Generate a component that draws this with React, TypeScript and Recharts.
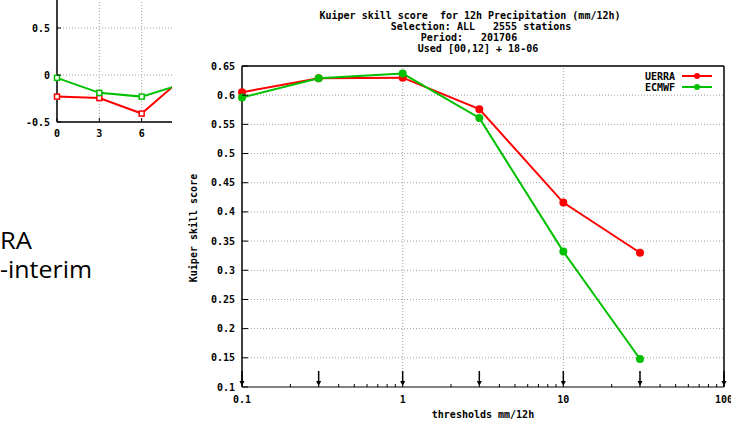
import React from "react";
import {
  ComposedChart, LineChart, Line, Scatter, XAxis, YAxis,
  CartesianGrid, ReferenceLine, Legend,
} from "recharts";

// ── main panel: Kuiper skill score vs threshold ────────────────
const thresholds = [0.1, 0.3, 1, 3, 10, 30];
const uerraScores = [0.605, 0.629, 0.63, 0.576, 0.416, 0.33];
const ecmwfScores = [0.596, 0.629, 0.637, 0.561, 0.332, 0.148];
const arrowThresholds = [0.1, 0.3, 1, 3, 10, 30, 100];
const seriesNames = ["UERRA", "ECMWF"];

const xTicks = [
  0.1, 0.2, 0.3, 0.4, 0.5, 0.6, 0.7, 0.8, 0.9,
  1, 2, 3, 4, 5, 6, 7, 8, 9,
  10, 20, 30, 40, 50, 60, 70, 80, 90, 100,
];
const xDecades = [0.1, 1, 10, 100];
const xGridLines = [1, 10];
const yTicks = [0.1, 0.15, 0.2, 0.25, 0.3, 0.35, 0.4, 0.45, 0.5, 0.55, 0.6, 0.65];

const titleLines = [
  "Kuiper skill score  for 12h Precipitation (mm/12h)",
  "Selection: ALL   2555 stations",
  "Period:   201706",
  "Used [00,12] + 18-06",
];

// ── left panel (cropped in the slide) ──────────────────────────
const leadHours = [0, 3, 6, 9];
const leadTicks = [0, 3, 6];
const leftUerra = [-0.23, -0.245, -0.41, -0.02];
const leftEcmwf = [-0.03, -0.19, -0.23, -0.09];
const leftYTicks = [-0.5, 0, 0.5];

const RED = "#ff0000";
const GREEN = "#00c000";

const mono = {
  fontFamily: "'DejaVu Sans Mono', monospace",
  fontWeight: "bold" as const,
  fontSize: 10,
  fill: "#000",
};

const uerraData = thresholds.map((t, i) => ({ t, v: uerraScores[i] }));
const ecmwfData = thresholds.map((t, i) => ({ t, v: ecmwfScores[i] }));
const arrowData = arrowThresholds.map((t) => ({ t, v: 0.1 }));
const leftData = leadHours.map((h, i) => ({ h, u: leftUerra[i], e: leftEcmwf[i] }));

// ticks drawn inward like gnuplot
function BottomTick({ x, y, payload }: any) {
  const major = xDecades.includes(payload.value);
  return (
    <g>
      <line x1={x} x2={x} y1={y} y2={y - (major ? 6 : 3)} stroke="#000" />
      {major && (
        <text x={x} y={y + 16} textAnchor="middle" style={mono}>{payload.value}</text>
      )}
    </g>
  );
}

function TopTick({ x, y, payload }: any) {
  const major = xDecades.includes(payload.value);
  return <line x1={x} x2={x} y1={y} y2={y + (major ? 6 : 3)} stroke="#000" />;
}

function LeftTick({ x, y, payload }: any) {
  return (
    <g>
      <line x1={x} x2={x + 6} y1={y} y2={y} stroke="#000" />
      <text x={x - 7} y={y + 3.5} textAnchor="end" style={mono}>{String(payload.value)}</text>
    </g>
  );
}

function RightTick({ x, y }: any) {
  return <line x1={x - 6} x2={x} y1={y} y2={y} stroke="#000" />;
}

function Arrow({ cx, cy }: any) {
  return (
    <g>
      <line x1={cx} x2={cx} y1={cy - 16} y2={cy - 5} stroke="#000" strokeWidth={1.5} />
      <path d={`M${cx - 2.5},${cy - 6} L${cx + 2.5},${cy - 6} L${cx},${cy - 1} Z`} fill="#000" />
    </g>
  );
}

function LegendBox({ payload }: any) {
  const items = seriesNames
    .map((n) => (payload || []).find((p: any) => p.value === n))
    .filter(Boolean);
  return (
    <svg width={92} height={26}>
      {items.map((p: any, i: number) => (
        <g key={p.value}>
          <text x={45} y={10.5 + i * 11} textAnchor="end" style={mono}>{p.value}</text>
          <line x1={52} x2={82} y1={7 + i * 11} y2={7 + i * 11} stroke={p.color} strokeWidth={2} />
          <circle cx={67} cy={7 + i * 11} r={3} fill={p.color} />
        </g>
      ))}
    </svg>
  );
}

// ── small panel helpers ────────────────────────────────────────
function MiniXTick({ x, y, payload }: any) {
  return (
    <g>
      <line x1={x} x2={x} y1={y} y2={y - 4} stroke="#000" />
      <text x={x} y={y + 15} textAnchor="middle" style={mono}>{payload.value}</text>
    </g>
  );
}

function MiniYTick({ x, y, payload }: any) {
  return (
    <g>
      <line x1={x} x2={x + 4} y1={y} y2={y} stroke="#000" />
      <text x={x - 7} y={y + 3.5} textAnchor="end" style={mono}>{String(payload.value)}</text>
    </g>
  );
}

function OpenSquare(color: string) {
  return ({ cx, cy, index }: any) => (
    <rect key={index} x={cx - 2.5} y={cy - 2.5} width={5} height={5} fill="#fff" stroke={color} strokeWidth={1.5} />
  );
}

function LeftPanel() {
  return (
    <div style={{ position: "absolute", left: 0, top: 0, width: 172, height: 150, overflow: "hidden" }}>
      <div style={{ position: "absolute", left: 0, top: -40 }}>
        <LineChart width={189} height={192} data={leftData} margin={{ top: 21, right: 5, left: 7, bottom: 5 }}>
          <CartesianGrid stroke="#a0a0a0" strokeDasharray="1 2" />
          <XAxis
            dataKey="h" type="number" domain={[0, 9]} ticks={leadTicks} interval={0}
            height={25} tickSize={0} tickMargin={0} tickLine={false}
            axisLine={{ stroke: "#000", strokeWidth: 1.5 }} tick={MiniXTick}
          />
          <YAxis
            type="number" domain={[-0.5, 1]} ticks={leftYTicks} interval={0}
            width={50} tickSize={0} tickMargin={0} tickLine={false}
            axisLine={{ stroke: "#000", strokeWidth: 1.5 }} tick={MiniYTick}
          />
          <Line dataKey="u" stroke={RED} strokeWidth={2} dot={OpenSquare(RED)} isAnimationActive={false} />
          <Line dataKey="e" stroke={GREEN} strokeWidth={2} dot={OpenSquare(GREEN)} isAnimationActive={false} />
        </LineChart>
      </div>
    </div>
  );
}

export default function App() {
  return (
    <div style={{ position: "absolute", left: 0, top: 0, width: 731, height: 423, overflow: "hidden", background: "#fff" }}>
      <LeftPanel />

      <svg width={731} height={423} style={{ position: "absolute", left: 0, top: 0 }}>
        <text x={0} y={249} style={{ fontFamily: "'Open Sans', sans-serif", fontSize: 23 }}
          textLength={32} lengthAdjust="spacingAndGlyphs">RA</text>
        <text x={0} y={278} style={{ fontFamily: "'Open Sans', sans-serif", fontSize: 23 }}
          textLength={92} lengthAdjust="spacingAndGlyphs">-interim</text>
      </svg>

      <div style={{ position: "absolute", left: 0, top: 0 }}>
        <ComposedChart width={731} height={423} margin={{ top: 65, right: 6, bottom: 35, left: 241 }}>
          <CartesianGrid vertical={false} stroke="#a0a0a0" strokeDasharray="1 2" />
          <XAxis
            dataKey="t" type="number" scale="log" domain={[0.1, 100]}
            ticks={xTicks} interval={0} height={1} tickSize={0} tickMargin={0} tickLine={false}
            axisLine={{ stroke: "#808080", strokeWidth: 2 }} tick={BottomTick}
          />
          <XAxis
            xAxisId="top" orientation="top" dataKey="t" type="number" scale="log" domain={[0.1, 100]}
            ticks={xTicks} interval={0} height={1} tickSize={0} tickMargin={0}
            tickLine={false} axisLine={{ stroke: "#000", strokeWidth: 1.5 }} tick={TopTick}
          />
          <YAxis
            type="number" domain={[0.1, 0.65]} ticks={yTicks} interval={0}
            width={1} tickSize={0} tickMargin={0} tickLine={false}
            axisLine={{ stroke: "#000", strokeWidth: 1.5 }} tick={LeftTick}
          />
          <YAxis
            yAxisId="right" orientation="right" type="number" domain={[0.1, 0.65]}
            ticks={yTicks} interval={0} width={1} tickSize={0} tickMargin={0} tickLine={false}
            axisLine={{ stroke: "#000", strokeWidth: 1.5 }} tick={RightTick}
          />
          {xGridLines.map((g) => (
            <ReferenceLine key={g} x={g} stroke="#a0a0a0" strokeDasharray="1 2" />
          ))}
          <Legend
            layout="horizontal" verticalAlign="middle" align="center"
            wrapperStyle={{ position: "absolute", top: 69, left: 630, width: 92 }}
            content={LegendBox}
          />
          <Line data={uerraData} dataKey="v" name="UERRA" stroke={RED} strokeWidth={2}
            dot={{ r: 3, fill: RED, stroke: RED }} isAnimationActive={false} />
          <Line data={ecmwfData} dataKey="v" name="ECMWF" stroke={GREEN} strokeWidth={2}
            dot={{ r: 3, fill: GREEN, stroke: GREEN }} isAnimationActive={false} />
          <Scatter data={arrowData} dataKey="v" legendType="none" shape={Arrow} isAnimationActive={false} />
        </ComposedChart>
      </div>

      <svg width={731} height={423} style={{ position: "absolute", left: 0, top: 0, pointerEvents: "none" }}>
        {titleLines.map((line, i) => (
          <text key={i} x={[470, 481, 469, 478][i]} y={18.5 + i * 11.2} textAnchor="middle" style={{ ...mono, whiteSpace: "pre" }}>
            {line}
          </text>
        ))}
        <text x={197} y={228} textAnchor="middle" transform="rotate(-90, 197, 228)" style={mono}>Kuiper skill score</text>
        <text x={483} y={418} textAnchor="middle" style={mono}>thresholds mm/12h</text>
      </svg>
    </div>
  );
}
